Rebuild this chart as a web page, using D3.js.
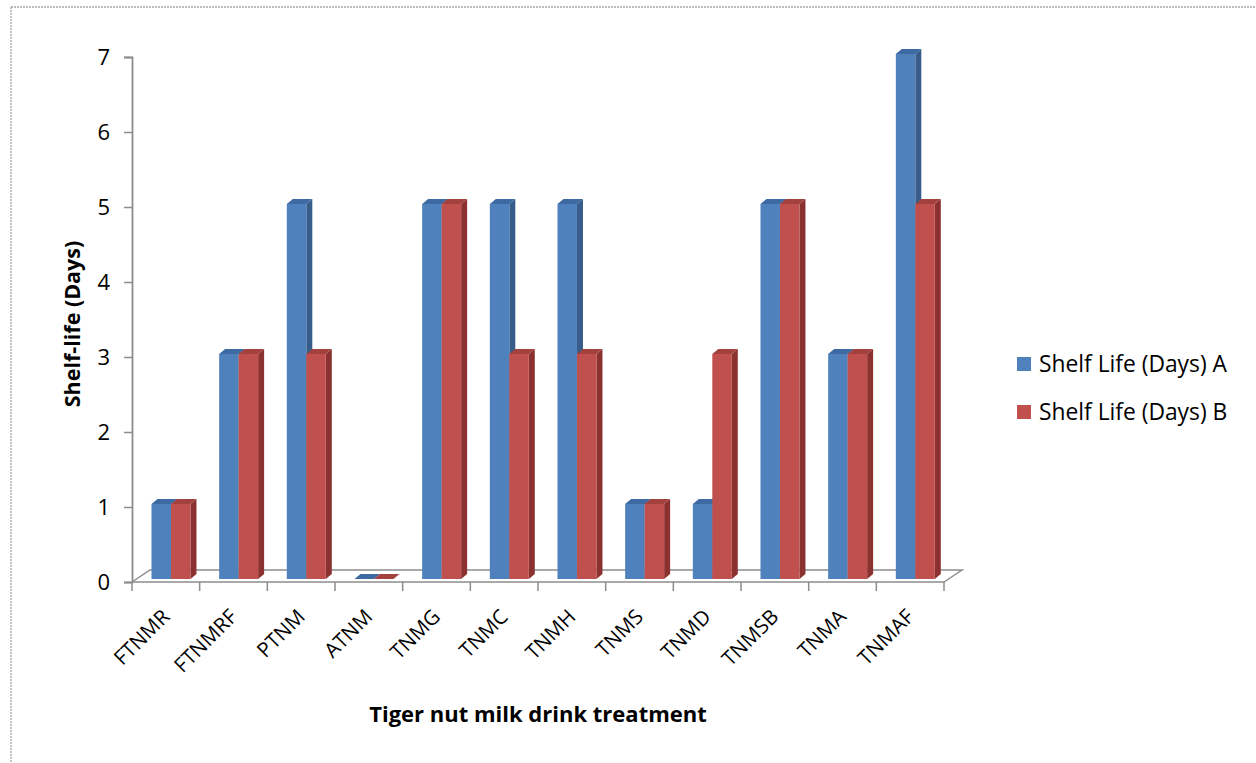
<!DOCTYPE html>
<html>
<head>
<meta charset="utf-8">
<script src="https://cdn.jsdelivr.net/npm/d3@7"></script>
<style>
    body { margin: 0; background: #fff; }
    text { font-family: "Open Sans", "Noto Sans", sans-serif; fill: #000; }
</style>
</head>
<body>
<div id="chart"></div>
<script>
// data
const categories = ["FTNMR", "FTNMRF", "PTNM", "ATNM", "TNMG", "TNMC", "TNMH", "TNMS", "TNMD", "TNMSB", "TNMA", "TNMAF"];
const shelfA = [1, 3, 5, 0, 5, 5, 5, 1, 1, 5, 3, 7];
const shelfB = [1, 3, 3, 0, 5, 3, 3, 1, 3, 5, 3, 5];
const seriesNames = ["Shelf Life (Days) A", "Shelf Life (Days) B"];
const yTicks = [0, 1, 2, 3, 4, 5, 6, 7];

// colours: front, side, top
const colors = [
    {front: "#4f81bd", side: "#385d8a", top: "#3e6aa3"},
    {front: "#c0504d", side: "#8b3230", top: "#a3413e"}
];

const width = 1256, height = 763;
const depth = {dx: 6, dy: -5};

let svg = d3.select("#chart")
    .append("svg")
    .attr("width", width)
    .attr("height", height);

// dotted frame (only top & left visible)
svg.append("line")
    .attr("x1", 11).attr("y1", 7).attr("x2", width).attr("y2", 7)
    .attr("stroke", "#a6a6a6").attr("stroke-width", 1.3).attr("stroke-dasharray", "2,1");
svg.append("line")
    .attr("x1", 11).attr("y1", 7).attr("x2", 11).attr("y2", height)
    .attr("stroke", "#a6a6a6").attr("stroke-width", 1.3).attr("stroke-dasharray", "2,1");

// scales
var xScale = d3.scaleBand()
    .domain(categories)
    .range([132, 944]);
var yScale = d3.scaleLinear()
    .domain([0, 7])
    .range([582, 57]);
const barW = xScale.bandwidth() * 0.288;
const barOff = xScale.bandwidth() * 0.288;
const barLift = 3;

// floor
const fl = 132, fr = 944, fy = yScale(0), bx = 18, by = -12;
svg.append("path")
    .attr("d", `M${fl},${fy} L${fl + bx},${fy + by} L${fr + bx},${fy + by} L${fr},${fy}`)
    .attr("fill", "none")
    .attr("stroke", "#8c8c8c")
    .attr("stroke-width", 1.5);

// y axis
let yAxis = svg.append("g")
    .attr("transform", "translate(132,0)")
    .call(d3.axisLeft(yScale).tickValues(yTicks).tickFormat(d3.format("d")).tickSize(8).tickPadding(14));
yAxis.select(".domain").attr("stroke", "#8c8c8c").attr("stroke-width", 1.8);
yAxis.selectAll(".tick line").attr("stroke", "#8c8c8c").attr("stroke-width", 1.5);
yAxis.selectAll(".tick text")
    .style("font-size", "22px")
    .style("font-family", "'Open Sans', sans-serif")
    .attr("dy", "0.35em");

// x axis
let xAxis = svg.append("g")
    .attr("transform", "translate(0," + fy + ")");
xAxis.append("line")
    .attr("x1", fl).attr("x2", fr).attr("y1", 0).attr("y2", 0)
    .attr("stroke", "#8c8c8c").attr("stroke-width", 1.5);
xAxis.selectAll(".xt")
    .data(categories.concat(["end"]))
    .enter()
    .append("line")
    .attr("x1", (d, i) => i < categories.length ? xScale(d) : fr)
    .attr("x2", (d, i) => i < categories.length ? xScale(d) : fr)
    .attr("y1", 0).attr("y2", 9)
    .attr("stroke", "#8c8c8c").attr("stroke-width", 1.5);
xAxis.selectAll(".xl")
    .data(categories)
    .enter()
    .append("text")
    .attr("text-anchor", "end")
    .style("font-size", "20.5px")
    .attr("transform", d => "translate(" + (xScale(d) + xScale.bandwidth() / 2 + 5) + ",36) rotate(-45)")
    .text(d => d);

// bars
const bars = [];
categories.forEach((c, i) => {
    [shelfA[i], shelfB[i]].forEach((v, s) => {
        bars.push({cat: c, s: s, v: v});
    });
});

let barG = svg.append("g");
bars.forEach(b => {
    const x0 = xScale(b.cat) + barOff + b.s * barW;
    const x1 = x0 + barW;
    const y0 = yScale(0) - barLift;
    const y1 = yScale(b.v) - barLift;
    const c = colors[b.s];
    if (b.v > 0) {
        // side
        barG.append("path")
            .attr("d", `M${x1},${y0} L${x1 + depth.dx},${y0 + depth.dy} L${x1 + depth.dx},${y1 + depth.dy} L${x1},${y1} Z`)
            .attr("fill", c.side);
        // front
        barG.append("rect")
            .attr("x", x0).attr("y", y1)
            .attr("width", barW).attr("height", y0 - y1)
            .attr("fill", c.front);
    }
    // top
    barG.append("path")
        .attr("d", `M${x0},${y1} L${x0 + depth.dx},${y1 + depth.dy} L${x1 + depth.dx},${y1 + depth.dy} L${x1},${y1} Z`)
        .attr("fill", c.top);
});

// axis titles
svg.append("text")
    .attr("transform", "translate(80,324) rotate(-90)")
    .attr("text-anchor", "middle")
    .style("font-size", "21.5px")
    .style("font-weight", "bold")
    .text("Shelf-life (Days)");
svg.append("text")
    .attr("x", 538)
    .attr("y", 722)
    .attr("text-anchor", "middle")
    .style("font-size", "22px")
    .style("font-weight", "bold")
    .text("Tiger nut milk drink treatment");

// legend
let legend = svg.append("g");
seriesNames.forEach((name, i) => {
    legend.append("rect")
        .attr("x", 1017).attr("y", 357 + i * 48)
        .attr("width", 14).attr("height", 14)
        .attr("fill", colors[i].front);
    legend.append("text")
        .attr("x", 1039).attr("y", 364 + i * 48)
        .attr("dy", "0.35em")
        .style("font-size", "22.8px")
        .text(name);
});
</script>
</body>
</html>
